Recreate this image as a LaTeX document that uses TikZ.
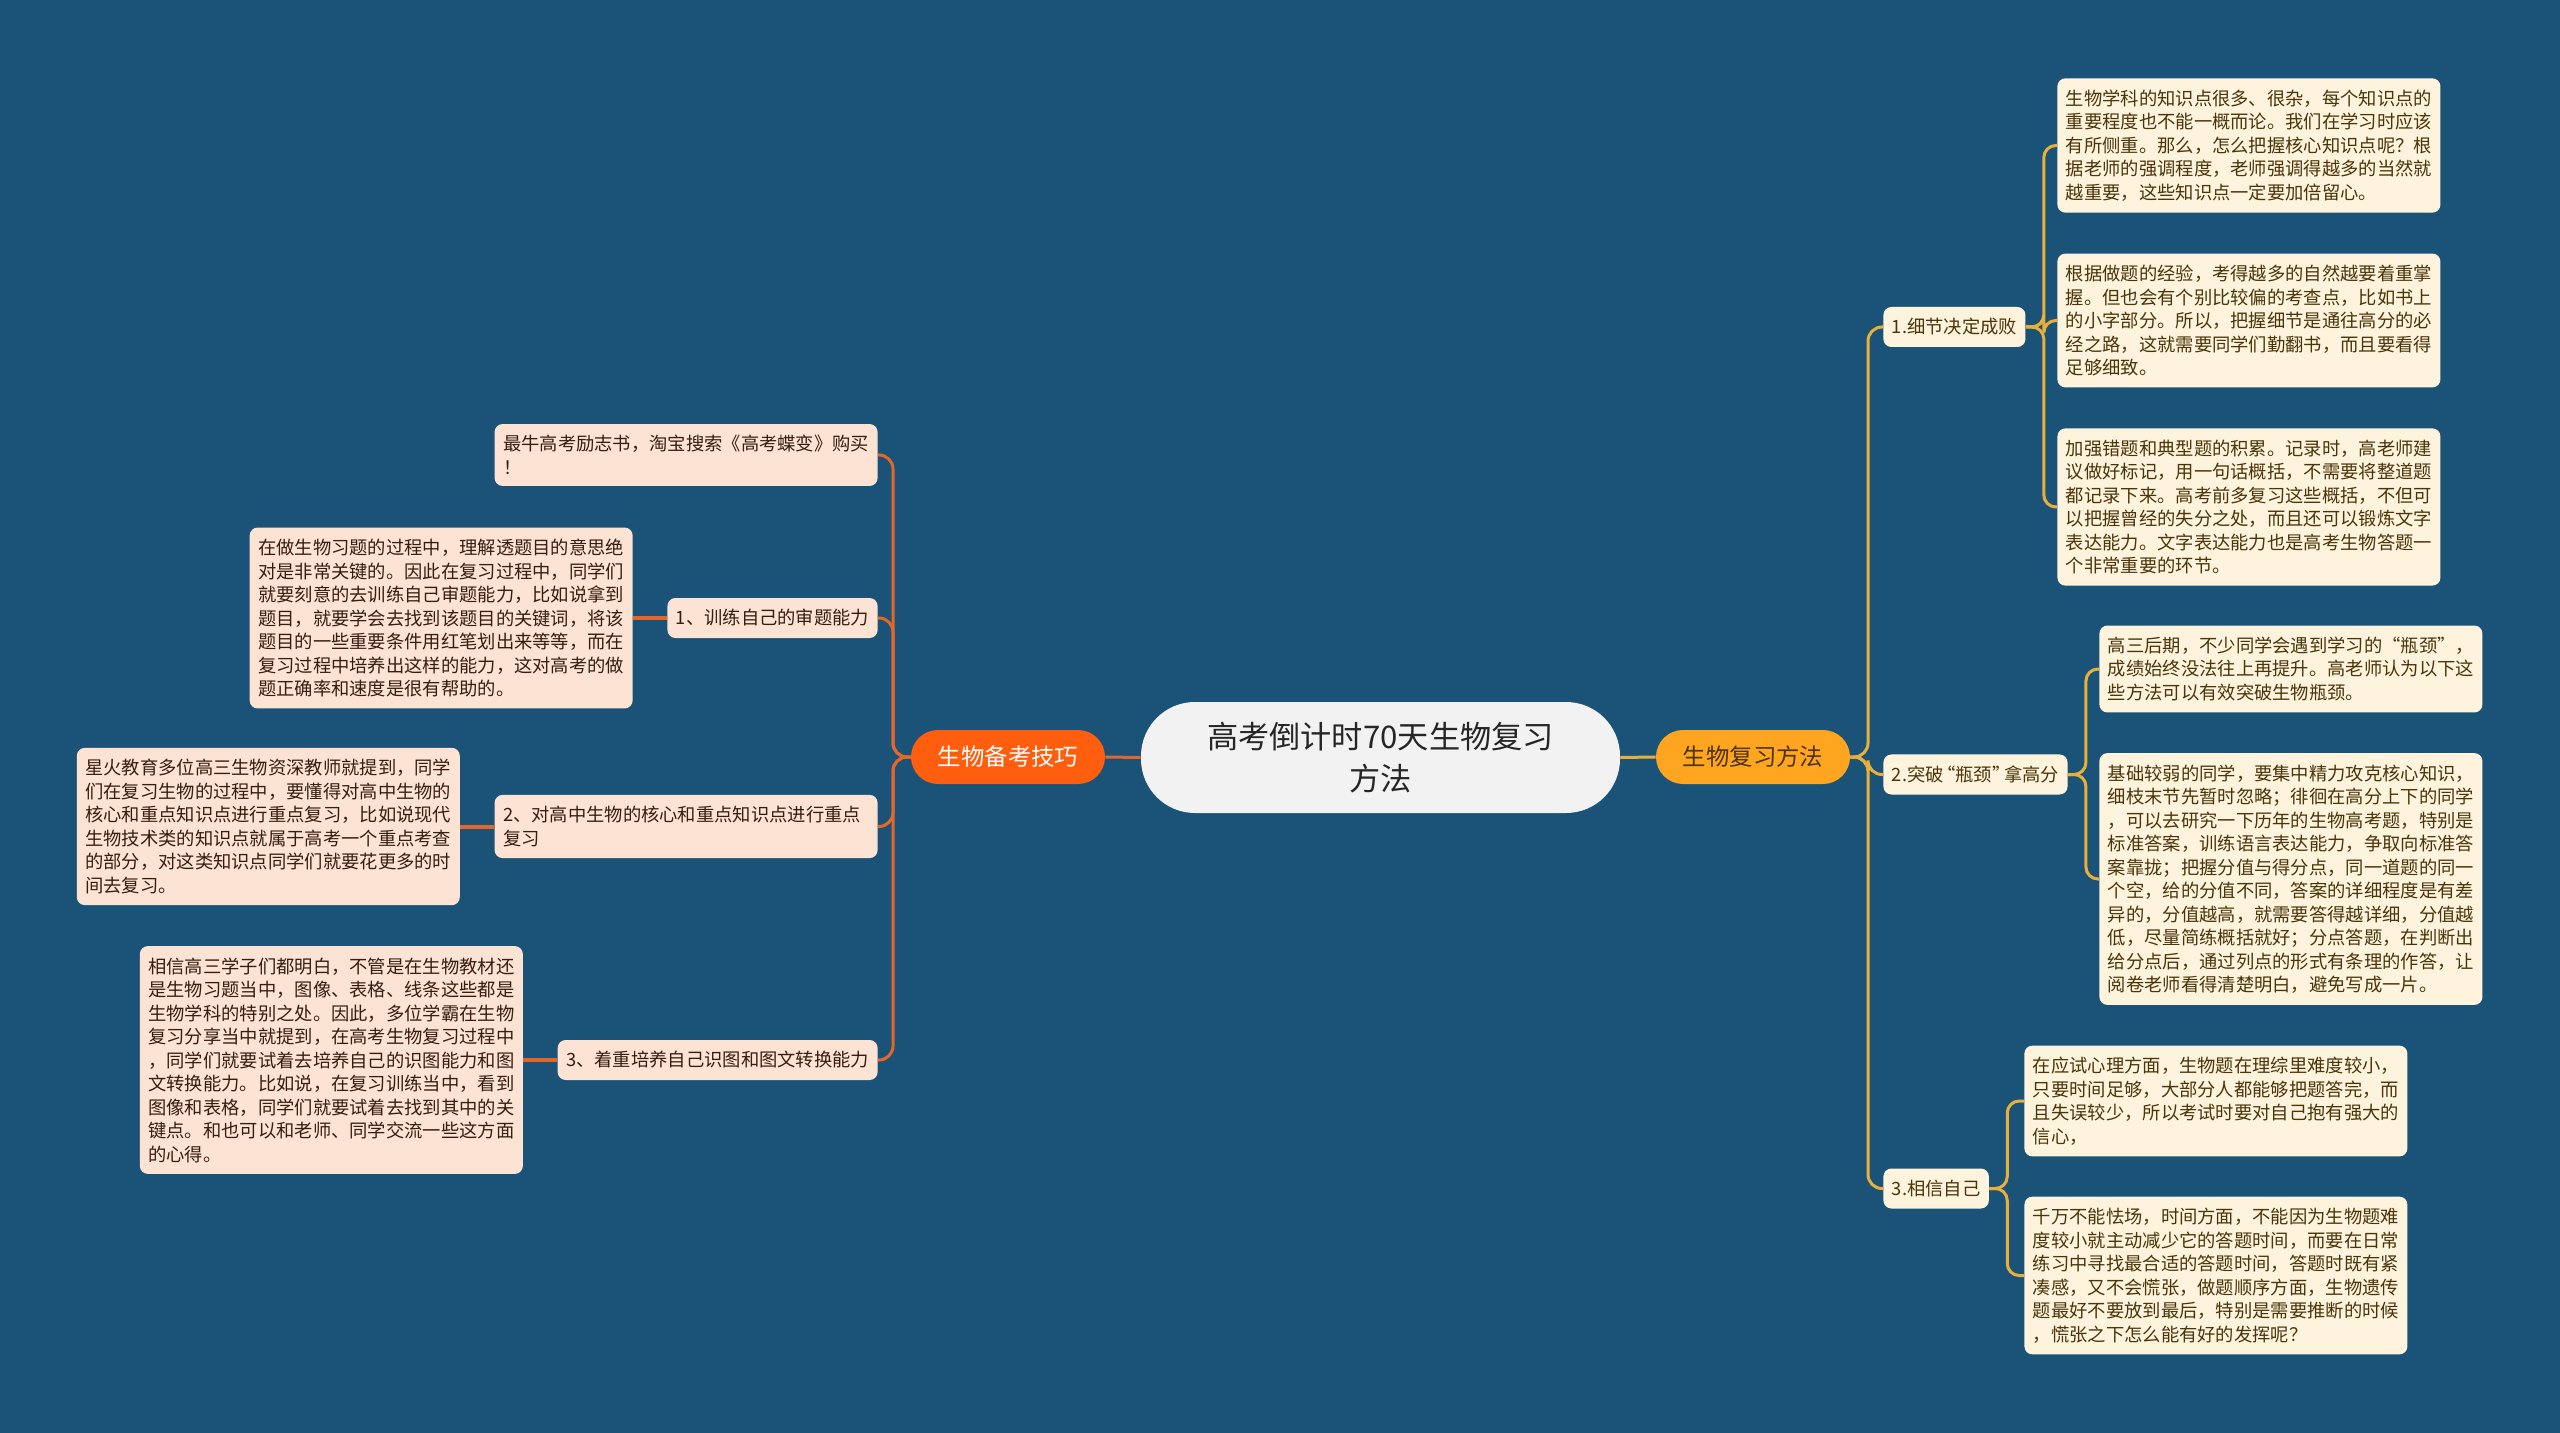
\documentclass[tikz,border=0pt]{standalone}
\usepackage{fontspec}
\setmainfont{Noto Sans CJK SC}
\usepackage{tikz}
\usetikzlibrary{positioning}
\definecolor{cBg}{RGB}{26,83,119}
\definecolor{cRoot}{RGB}{242,242,242}
\definecolor{cOrange}{RGB}{255,94,14}
\definecolor{cAmber}{RGB}{255,165,31}
\definecolor{cPeach}{RGB}{253,227,211}
\definecolor{cCream}{RGB}{254,243,220}
\definecolor{cLineL}{RGB}{227,103,43}
\definecolor{cLineR}{RGB}{232,176,58}
\definecolor{cInkL}{RGB}{52,30,18}
\definecolor{cInkR}{RGB}{74,53,10}
\tikzset{
	rootnode/.style={rectangle, rounded corners=27pt, minimum width=239.5pt, minimum height=55.5pt, align=center, fill=cRoot, text=black!85, font=\fontsize{15.6pt}{21pt}\selectfont},
	topic/.style   ={rectangle, rounded corners=13.5pt, minimum width=97pt, minimum height=27pt, align=center, font=\fontsize{11.7pt}{14pt}\selectfont},
	topicl/.style  ={topic, fill=cOrange, text=white},
	topicr/.style  ={topic, fill=cAmber, text=cInkR},
	branch/.style  ={rectangle, rounded corners=4pt, minimum height=20pt, inner xsep=4.25pt, inner ysep=5.7pt, align=left, font=\fontsize{9.15pt}{11.75pt}\selectfont},
	branchl/.style ={branch, fill=cPeach, text=cInkL},
	branchr/.style ={branch, fill=cCream, text=cInkR},
	leafl/.style   ={branchl, text width=183pt},
	leafr/.style   ={branchr, text width=183pt},
	% connector styles
	linkl/.style   ={cLineL, line width=1.5pt, rounded corners=7pt},
	linkr/.style   ={cLineR, line width=1.5pt, rounded corners=7pt},
}
\begin{document}
\begin{tikzpicture}[x=0.5pt, y=-0.5pt]
\fill[cBg] (0,0) rectangle (2560,1433);
\useasboundingbox (0,0) rectangle (2560,1433);

% centre and the two topics
\node[rootnode] (root) at (1380.5,757.5) {高考倒计时70天生物复习\\方法};
\node[topicl] (tips) at (1008,757) {生物备考技巧};
\node[topicr] (meth) at (1753,757) {生物复习方法};

% left side
\node[leafl, anchor=east] (l0) at (878,455) {最牛高考励志书，淘宝搜索《高考蝶变》购买\\！};
\node[branchl, anchor=east] (l1) at (878,618) {1、训练自己的审题能力};
\node[leafl, anchor=east] (l2) at (878,826.5) {2、对高中生物的核心和重点知识点进行重点\\复习};
\node[branchl, anchor=east] (l3) at (878,1060) {3、着重培养自己识图和图文转换能力};
\node[leafl, left=17pt of l1] (l1a) {在做生物习题的过程中，理解透题目的意思绝\\对是非常关键的。因此在复习过程中，同学们\\就要刻意的去训练自己审题能力，比如说拿到\\题目，就要学会去找到该题目的关键词，将该\\题目的一些重要条件用红笔划出来等等，而在\\复习过程中培养出这样的能力，这对高考的做\\题正确率和速度是很有帮助的。};
\node[leafl, left=17pt of l2] (l2a) {星火教育多位高三生物资深教师就提到，同学\\们在复习生物的过程中，要懂得对高中生物的\\核心和重点知识点进行重点复习，比如说现代\\生物技术类的知识点就属于高考一个重点考查\\的部分，对这类知识点同学们就要花更多的时\\间去复习。};
\node[leafl, left=17pt of l3] (l3a) {相信高三学子们都明白，不管是在生物教材还\\是生物习题当中，图像、表格、线条这些都是\\生物学科的特别之处。因此，多位学霸在生物\\复习分享当中就提到，在高考生物复习过程中\\，同学们就要试着去培养自己的识图能力和图\\文转换能力。比如说，在复习训练当中，看到\\图像和表格，同学们就要试着去找到其中的关\\键点。和也可以和老师、同学交流一些这方面\\的心得。};

% right side
\node[branchr, anchor=west] (r1) at (1883,327) {1.细节决定成败};
\node[branchr, anchor=west] (r2) at (1883,774.5) {2.突破\kern-0.35em“瓶颈”\kern-0.35em拿高分};
\node[branchr, anchor=west] (r3) at (1883,1188.5) {3.相信自己};
\node[leafr, anchor=west] (r1a) at (2057,145.5) {生物学科的知识点很多、很杂，每个知识点的\\重要程度也不能一概而论。我们在学习时应该\\有所侧重。那么，怎么把握核心知识点呢？根\\据老师的强调程度，老师强调得越多的当然就\\越重要，这些知识点一定要加倍留心。};
\node[leafr, anchor=west] (r1b) at (2057,320.5) {根据做题的经验，考得越多的自然越要着重掌\\握。但也会有个别比较偏的考查点，比如书上\\的小字部分。所以，把握细节是通往高分的必\\经之路，这就需要同学们勤翻书，而且要看得\\足够细致。};
\node[leafr, anchor=west] (r1c) at (2057,507) {加强错题和典型题的积累。记录时，高老师建\\议做好标记，用一句话概括，不需要将整道题\\都记录下来。高考前多复习这些概括，不但可\\以把握曾经的失分之处，而且还可以锻炼文字\\表达能力。文字表达能力也是高考生物答题一\\个非常重要的环节。};
\node[leafr, anchor=west] (r2a) at (2099,669) {高三后期，不少同学会遇到学习的“瓶颈”，\\成绩始终没法往上再提升。高老师认为以下这\\些方法可以有效突破生物瓶颈。};
\node[leafr, anchor=west] (r2b) at (2099,879) {基础较弱的同学，要集中精力攻克核心知识，\\细枝末节先暂时忽略；徘徊在高分上下的同学\\，可以去研究一下历年的生物高考题，特别是\\标准答案，训练语言表达能力，争取向标准答\\案靠拢；把握分值与得分点，同一道题的同一\\个空，给的分值不同，答案的详细程度是有差\\异的，分值越高，就需要答得越详细，分值越\\低，尽量简练概括就好；分点答题，在判断出\\给分点后，通过列点的形式有条理的作答，让\\阅卷老师看得清楚明白，避免写成一片。};
\node[leafr, anchor=west] (r3a) at (2024,1101) {在应试心理方面，生物题在理综里难度较小，\\只要时间足够，大部分人都能够把题答完，而\\且失误较少，所以考试时要对自己抱有强大的\\信心，};
\node[leafr, anchor=west] (r3b) at (2024,1275.5) {千万不能怯场，时间方面，不能因为生物题难\\度较小就主动减少它的答题时间，而要在日常\\练习中寻找最合适的答题时间，答题时既有紧\\凑感，又不会慌张，做题顺序方面，生物遗传\\题最好不要放到最后，特别是需要推断的时候\\，慌张之下怎么能有好的发挥呢？};

% connectors
\coordinate (lt) at (893,757);
\coordinate (rt) at (1868,757);
\draw[linkl] (root.west) -- (tips.east);
\draw[linkr] (root.east) -- (meth.west);
\foreach \k in {l0,l1,l2,l3}
	\draw[linkl] (tips.west) -- (tips.west -| lt) |- (\k.east);
\foreach \k in {r1,r2,r3}
	\draw[linkr] (meth.east) -- (meth.east -| rt) |- (\k.west);
\foreach \a/\b in {l1/l1a,l2/l2a,l3/l3a}
	\draw[linkl, line width=2pt] (\a.west) -- (\b.east);
\foreach \a/\b in {r1/r1a,r1/r1b,r1/r1c,r2/r2a,r2/r2b,r3/r3a,r3/r3b}
	\draw[linkr, rounded corners=6pt] (\a.east) -- ++(9pt,0) |- (\b.west);
\end{tikzpicture}
\end{document}
